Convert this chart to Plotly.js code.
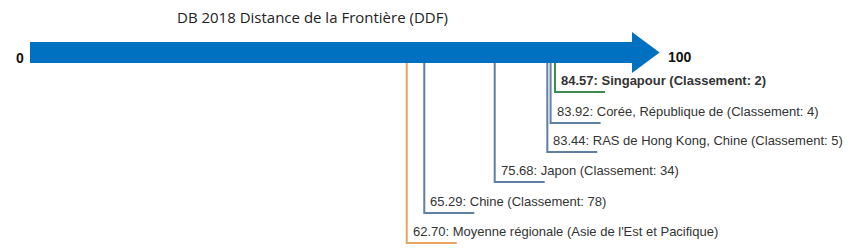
<!DOCTYPE html>
<html>
<head>
<meta charset="utf-8">
<script src="https://cdn.plot.ly/plotly-3.0.1.min.js"></script>
<style>html,body{margin:0;padding:0;background:#fff;}#chart{width:857px;height:248px;}</style>
</head>
<body>
<div id="chart"></div>
<script>
// ---- data ----
const chartTitle = "DB 2018 Distance de la Frontière (DDF)";
const scaleMin = 0;
const scaleMax = 100;
const names = ["Singapour", "Corée, République de", "RAS de Hong Kong, Chine", "Japon", "Chine", "Moyenne régionale (Asie de l'Est et Pacifique)"];
const scores = [84.57, 83.92, 83.44, 75.68, 65.29, 62.70];
const ranks = [2, 4, 5, 34, 78, null];
const highlight = [true, false, false, false, false, false];
const isAverage = [false, false, false, false, false, true];

// ---- layout helpers (pixel geometry) ----
const W = 857, H = 248;
const pxPerUnit = 6.78, pxOffset = -18.4;           // x pixel = pxOffset + pxPerUnit * value
const toVal = px => (px - pxOffset) / pxPerUnit;
const bottoms = [92, 123, 152, 182, 213, 243];     // pixel y of each hook
const hookLen = 50 / pxPerUnit;
const colors = { main: "#5f7fa3", top: "#3d8b4e", avg: "#e8a560", arrow: "#0070c0" };

const traces = [];
const annotations = [];
scores.forEach((s, i) => {
  const c = isAverage[i] ? colors.avg : (highlight[i] ? colors.top : colors.main);
  traces.push({
    type: "scatter", mode: "lines",
    x: [s, s, s + hookLen], y: [60, bottoms[i], bottoms[i]],
    line: { color: c, width: 2 }, hoverinfo: "skip", showlegend: false
  });
  let label = s.toFixed(2) + ": " + names[i] + (ranks[i] !== null ? " (Classement: " + ranks[i] + ")" : "");
  if (highlight[i]) label = "<b>" + label + "</b>";
  annotations.push({
    x: s + 4 / pxPerUnit, y: bottoms[i] - 12, xref: "x", yref: "y",
    text: label, showarrow: false, xanchor: "left", yanchor: "middle",
    font: { family: "Arial, 'Liberation Sans', sans-serif", size: 13, color: "#333" }
  });
});

// end labels
annotations.push({ x: toVal(19.5), y: 57.5, xref: "x", yref: "y", text: "<b>" + scaleMin + "</b>", showarrow: false,
  xanchor: "center", yanchor: "middle", font: { family: "Arial, 'Liberation Sans', sans-serif", size: 14, color: "#111" } });
annotations.push({ x: scaleMax + 6.5 / pxPerUnit, y: 56.5, xref: "x", yref: "y", text: "<b>" + scaleMax + "</b>", showarrow: false,
  xanchor: "left", yanchor: "middle", font: { family: "Arial, 'Liberation Sans', sans-serif", size: 14, color: "#111" } });
// title
annotations.push({ x: toVal(312), y: 17, xref: "x", yref: "y", text: chartTitle, showarrow: false,
  xanchor: "center", yanchor: "middle", font: { family: "'Open Sans', sans-serif", size: 15, color: "#222" } });

// arrow shape (tail to tip at scaleMax)
const tail = toVal(30), headBase = toVal(632), tip = scaleMax;
const yTop = 42, yBot = 63, hTop = 32, hBot = 73, yMid = 52.5;
const arrowPath = `M ${tail},${yTop} L ${headBase},${yTop} L ${headBase},${hTop} L ${tip},${yMid} L ${headBase},${hBot} L ${headBase},${yBot} L ${tail},${yBot} Z`;

const layout = {
  width: W, height: H,
  margin: { l: 0, r: 0, t: 0, b: 0 },
  paper_bgcolor: "#fff", plot_bgcolor: "#fff",
  xaxis: { range: [toVal(0), toVal(W)], visible: false, fixedrange: true },
  yaxis: { range: [H, 0], visible: false, fixedrange: true },
  shapes: [{ type: "path", path: arrowPath, xref: "x", yref: "y", fillcolor: colors.arrow, line: { width: 0 }, layer: "above" }],
  annotations: annotations,
  showlegend: false
};

Plotly.newPlot("chart", traces, layout, { staticPlot: true, displayModeBar: false });
</script>
</body>
</html>
